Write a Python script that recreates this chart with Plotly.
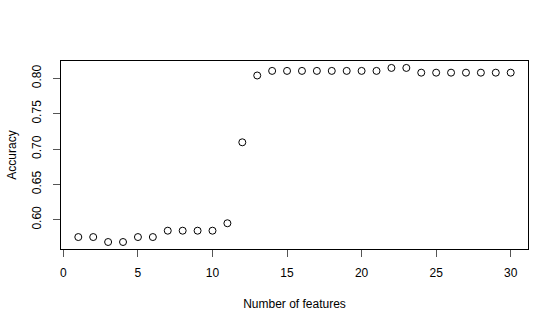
import plotly.graph_objects as go

features = list(range(1, 31))
accuracy = [0.5755, 0.5755, 0.5685, 0.5685, 0.5755, 0.5755, 0.5845, 0.5845, 0.5845, 0.5845,
            0.5950, 0.7095, 0.8040, 0.8105, 0.8105, 0.8105, 0.8105, 0.8105, 0.8105, 0.8105,
            0.8105, 0.8147, 0.8147, 0.8080, 0.8080, 0.8080, 0.8080, 0.8080, 0.8080, 0.8080]
x_ticks = [0, 5, 10, 15, 20, 25, 30]
y_ticks = [0.60, 0.65, 0.70, 0.75, 0.80]
y_labels = ["0.60", "0.65", "0.70", "0.75", "0.80"]

fig = go.Figure()
fig.add_trace(go.Scatter(
    x=features, y=accuracy, mode="markers",
    marker=dict(symbol="circle-open", size=7, color="black", line=dict(width=1)),
    showlegend=False, hoverinfo="skip",
))

font = dict(family="Liberation Sans, Arial, sans-serif", size=12, color="black")
fig.update_layout(
    width=560, height=326,
    margin=dict(l=61, r=32, t=61, b=77),
    paper_bgcolor="white", plot_bgcolor="white",
    font=font,
    xaxis=dict(
        range=[-0.16, 31.16], tickvals=x_ticks, ticks="outside", ticklen=7,
        tickcolor="#555", showgrid=False, zeroline=False, ticklabelstandoff=6,
        showline=True, linecolor="black", linewidth=1, mirror=True,
        title=dict(text="Number of features", standoff=20, font=font),
    ),
    yaxis=dict(
        range=[0.5586, 0.8245], tickvals=y_ticks, ticktext=y_labels, ticks="outside",
        ticklen=7, tickcolor="#555", tickangle=-90, showgrid=False, zeroline=False,
        ticklabelstandoff=7,
        showline=True, linecolor="black", linewidth=1, mirror=True,
        title=dict(text="Accuracy", standoff=11, font=font),
    ),
)
fig.write_html("out.html")
